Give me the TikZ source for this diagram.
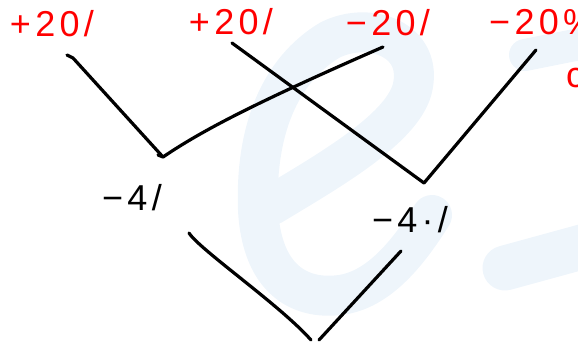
\documentclass[tikz,border=0pt]{standalone}
\usepackage{fontspec}
\setmainfont{Liberation Sans}
\definecolor{wmblue}{HTML}{EEF5FB}
\definecolor{inkred}{HTML}{FF0000}
\begin{document}
\begin{tikzpicture}[x=1pt,y=-1pt,
  ink/.style={line width=3.2pt,line cap=round,line join=round,draw=black},
  lbl/.style={font=\fontsize{36}{36}\selectfont\addfontfeature{LetterSpace=12},inner sep=0pt},
  redlbl/.style={lbl,text=inkred},
  wm/.style={line width=40pt,line cap=round,line join=round,draw=wmblue}]
\useasboundingbox (0,0) rectangle (578,348);
\clip (0,0) rectangle (578,348);
% watermark
\draw[wm] (272,205) .. controls (330,170) and (400,130) .. (412,90)
  .. controls (425,40) and (370,20) .. (330,40)
  .. controls (280,70) and (255,130) .. (258,210)
  .. controls (262,280) and (300,300) .. (340,295)
  .. controls (380,290) and (410,250) .. (432,215);
\draw[wm,line width=45pt] (505,268) -- (600,242);
\draw[wm,line width=32pt] (525,55) -- (600,40);
% labels
\node[redlbl] (t1) at (52,24) {+20/};
\node[redlbl] (t2) at (231,22) {+20/};
\node[redlbl] (t3) at (388,23) {−20/};
\node[redlbl,anchor=west] (t4) at (489,22) {−20\%};
\node[redlbl,anchor=west] (t5) at (566,78) {c};
\node[lbl] (b1) at (132,198) {−4/};
\node[lbl] (b2) at (410,220) {−4·/};
% line end points
\coordinate (a1) at (67,55);
\coordinate (v1) at (163,157);
\coordinate (bE) at (383,47);
\coordinate (c1) at (232,43);
\coordinate (v2) at (424,183);
\coordinate (d1) at (536,50);
\coordinate (e1) at (189,233);
\coordinate (v3l) at (311,340);
\coordinate (v3r) at (319,340);
\coordinate (e2) at (401,251);
% lines
\draw[ink] (a1) -- (73,58) -- (v1) -- (158,155);
\draw[ink] (v1) .. controls (200,132) and (250,105) .. (bE);
\draw[ink] (c1) -- (v2);
\draw[ink] (v2) -- (d1);
\draw[ink] (e1) .. controls (200,250) and (280,305) .. (v3l);
\draw[ink] (v3r) -- (e2);
\end{tikzpicture}
\end{document}
